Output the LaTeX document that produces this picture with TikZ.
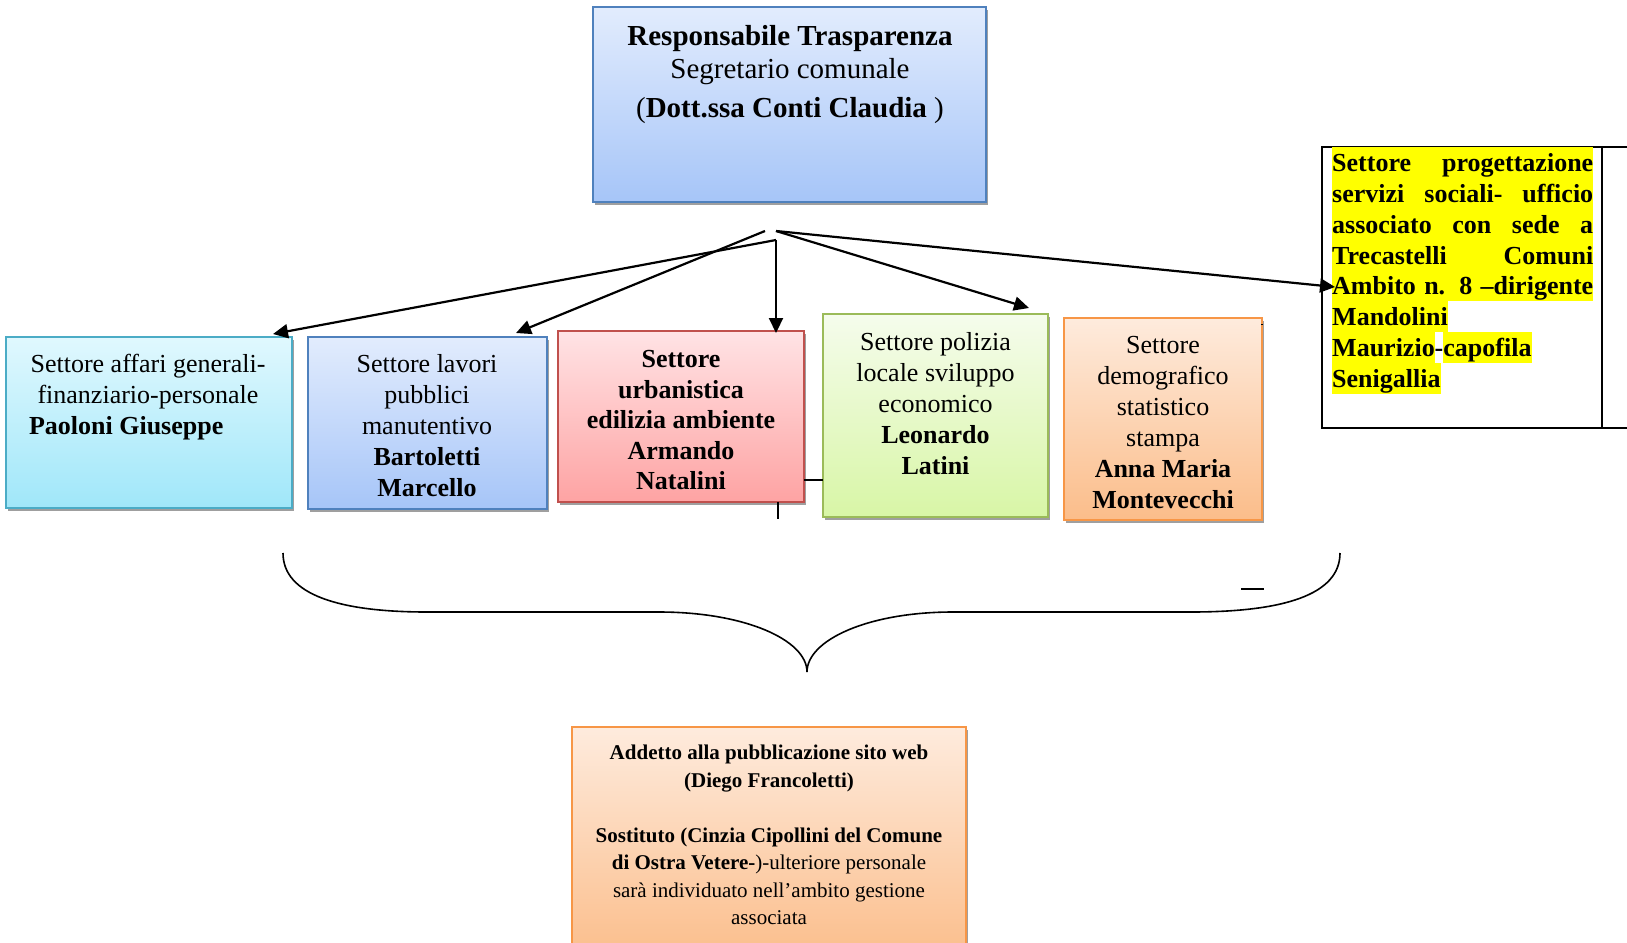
\documentclass[tikz,border=0pt]{standalone}
\usepackage{fontspec}
\setmainfont{Liberation Serif}
\usetikzlibrary{arrows.meta,shadows}
\definecolor{bluetop}{RGB}{226,236,253}
\definecolor{bluebot}{RGB}{166,197,248}
\definecolor{blueline}{RGB}{79,129,189}
\definecolor{cyantop}{RGB}{224,248,254}
\definecolor{cyanbot}{RGB}{160,231,249}
\definecolor{cyanline}{RGB}{75,172,198}
\definecolor{redtop}{RGB}{255,227,229}
\definecolor{redbot}{RGB}{254,163,163}
\definecolor{redline}{RGB}{192,80,77}
\definecolor{greentop}{RGB}{245,252,236}
\definecolor{greenbot}{RGB}{216,246,166}
\definecolor{greenline}{RGB}{155,187,89}
\definecolor{orangetop}{RGB}{254,235,221}
\definecolor{orangebot}{RGB}{251,189,138}
\definecolor{orangeline}{RGB}{247,150,70}
\definecolor{hlyellow}{RGB}{255,255,0}
\newcommand{\ystrut}{\rule[-6.3pt]{0pt}{30.8pt}}
\newcommand{\yfull}[1]{{\setlength{\fboxsep}{0pt}\colorbox{hlyellow}{\makebox[261pt][s]{\ystrut #1}}}}
\newcommand{\ypart}[1]{{\setlength{\fboxsep}{0pt}\colorbox{hlyellow}{\ystrut #1}}}
\newcommand{\tightlines}{\lineskiplimit=-3pt\relax}
\tikzset{
  orgbox/.style={draw, line width=1.5pt, inner sep=0pt, outer sep=0pt, anchor=north west,
    drop shadow={shadow xshift=2pt, shadow yshift=-3pt, fill=gray!75, opacity=1}},
  orgtxt/.style={inner sep=0pt, anchor=north, align=center, font=\fontsize{26}{31}\selectfont},
  conn/.style={-{Triangle[length=15pt,width=14pt]}, line width=2.2pt},
  thinline/.style={line width=1.5pt}
}
\begin{document}
\begin{tikzpicture}[x=1pt,y=-1pt]
\useasboundingbox (0,0) rectangle (1627,942);
% top box
\node[orgbox, draw=blueline, top color=bluetop, bottom color=bluebot,
  minimum width=393pt, minimum height=195pt] (rt) at (593,7) {};
\node[orgtxt, font=\fontsize{29}{33}\selectfont] (rtt) at (790,25.5)
  {\textbf{Responsabile Trasparenza}\\ Segretario comunale\\[6pt] (\textbf{Dott.ssa Conti Claudia} )};
% sector boxes
\node[orgbox, draw=cyanline, top color=cyantop, bottom color=cyanbot,
  minimum width=286pt, minimum height=171pt] (b1) at (6,337) {};
\node[orgtxt] (b1t) at (148,354)
  {Settore affari generali-\\ finanziario-personale\\ \makebox[238pt][l]{\textbf{Paoloni Giuseppe}}};
\node[orgbox, draw=blueline, top color=bluetop, bottom color=bluebot,
  minimum width=239pt, minimum height=172pt] (b2) at (308,337) {};
\node[orgtxt] (b2t) at (427,354)
  {Settore lavori\\ pubblici\\ manutentivo\\ \textbf{Bartoletti}\\ \textbf{Marcello}};
\node[orgbox, draw=redline, top color=redtop, bottom color=redbot,
  minimum width=246pt, minimum height=171pt] (b3) at (558,331) {};
\node[orgtxt, font=\bfseries\fontsize{26}{30.6}\selectfont] (b3t) at (681,350)
  {Settore\\ urbanistica\\ edilizia ambiente\\ Armando\\ Natalini};
\node[orgbox, draw=greenline, top color=greentop, bottom color=greenbot,
  minimum width=225pt, minimum height=203pt] (b4) at (823,314) {};
\node[orgtxt] (b4t) at (935.5,332)
  {Settore polizia\\ locale sviluppo\\ economico\\ \textbf{Leonardo}\\ \textbf{Latini}};
\node[orgbox, draw=orangeline, top color=orangetop, bottom color=orangebot,
  minimum width=198pt, minimum height=202pt] (b5) at (1064,318) {};
\node[orgtxt] (b5t) at (1163,336)
  {Settore\\ demografico\\ statistico\\ stampa\\ \textbf{Anna Maria}\\ \textbf{Montevecchi}};
% right box
\node[draw, line width=2pt, inner sep=0pt, outer sep=0pt, anchor=north west,
  minimum width=330pt, minimum height=281pt] (ps) at (1322,147) {};
\draw[line width=2pt] ([xshift=280pt]ps.north west) -- ([xshift=280pt]ps.south west);
\node[inner sep=0pt, anchor=north west, align=left,
  font=\bfseries\fontsize{26}{30.8}\selectfont\tightlines] (pst) at (1332,147)
  {\yfull{Settore progettazione}\\ \yfull{servizi sociali- ufficio}\\ \yfull{associato con sede a}\\
   \yfull{Trecastelli Comuni}\\ \yfull{Ambito n. 8 –dirigente}\\ \ypart{Mandolini}\\
   \ypart{Maurizio}\ystrut-\ypart{capofila}\\ \ypart{Senigallia}};
% bottom box
\node[orgbox, draw=orangeline, top color=orangetop, bottom color=orangebot,
  minimum width=394pt, minimum height=235pt] (ad) at (572,727) {};
\node[orgtxt, font=\fontsize{21}{27.5}\selectfont] (adt) at (769,745)
  {\textbf{Addetto alla pubblicazione sito web}\\ \textbf{(Diego Francoletti)}\\[27.5pt]
   \textbf{Sostituto (Cinzia Cipollini del Comune}\\ \textbf{di Ostra Vetere-})-ulteriore personale\\
   sarà individuato nell’ambito gestione\\ associata};
% connectors
\coordinate (o1) at (776,240);
\coordinate (o2) at (765,231);
\coordinate (o3) at (776,231);
\coordinate (t1) at (273,334);
\coordinate (t2) at (516,333);
\coordinate (t3) at (776,333);
\coordinate (t4) at (1029,308);
\coordinate (t5) at (1335,287);
\draw[conn] (o1) -- (t1);
\draw[conn] (o2) -- (t2);
\draw[conn] (o1) -- (t3);
\draw[conn] (o3) -- (t4);
\draw[conn] (o3) -- (t5);
% small lines
\coordinate (s1) at (804,480);
\coordinate (s2) at (823,480);
\draw[thinline] (s1) -- (s2);
\coordinate (s3) at (778,502);
\coordinate (s4) at (778,519);
\draw[thinline] (s3) -- (s4);
\coordinate (s5) at (1261,324);
\coordinate (s6) at (1263,324);
\draw[line width=1pt] (s5) -- (s6);
% brace
\coordinate (br1) at (283,553);
\coordinate (br2) at (427,612);
\coordinate (br3) at (659,612);
\coordinate (brt) at (807,672);
\coordinate (br4) at (953,612);
\coordinate (br5) at (1191,612);
\coordinate (br6) at (1340,553);
\draw[line width=1.6pt] (br1) .. controls (283,595) and (340,612) .. (br2) -- (br3)
  .. controls (745,612) and (807,640) .. (brt)
  .. controls (807,640) and (868,612) .. (br4) -- (br5)
  .. controls (1283,612) and (1340,595) .. (br6);
\coordinate (d1) at (1241,589);
\coordinate (d2) at (1264,589);
\draw[line width=2pt] (d1) -- (d2);
\end{tikzpicture}
\end{document}
